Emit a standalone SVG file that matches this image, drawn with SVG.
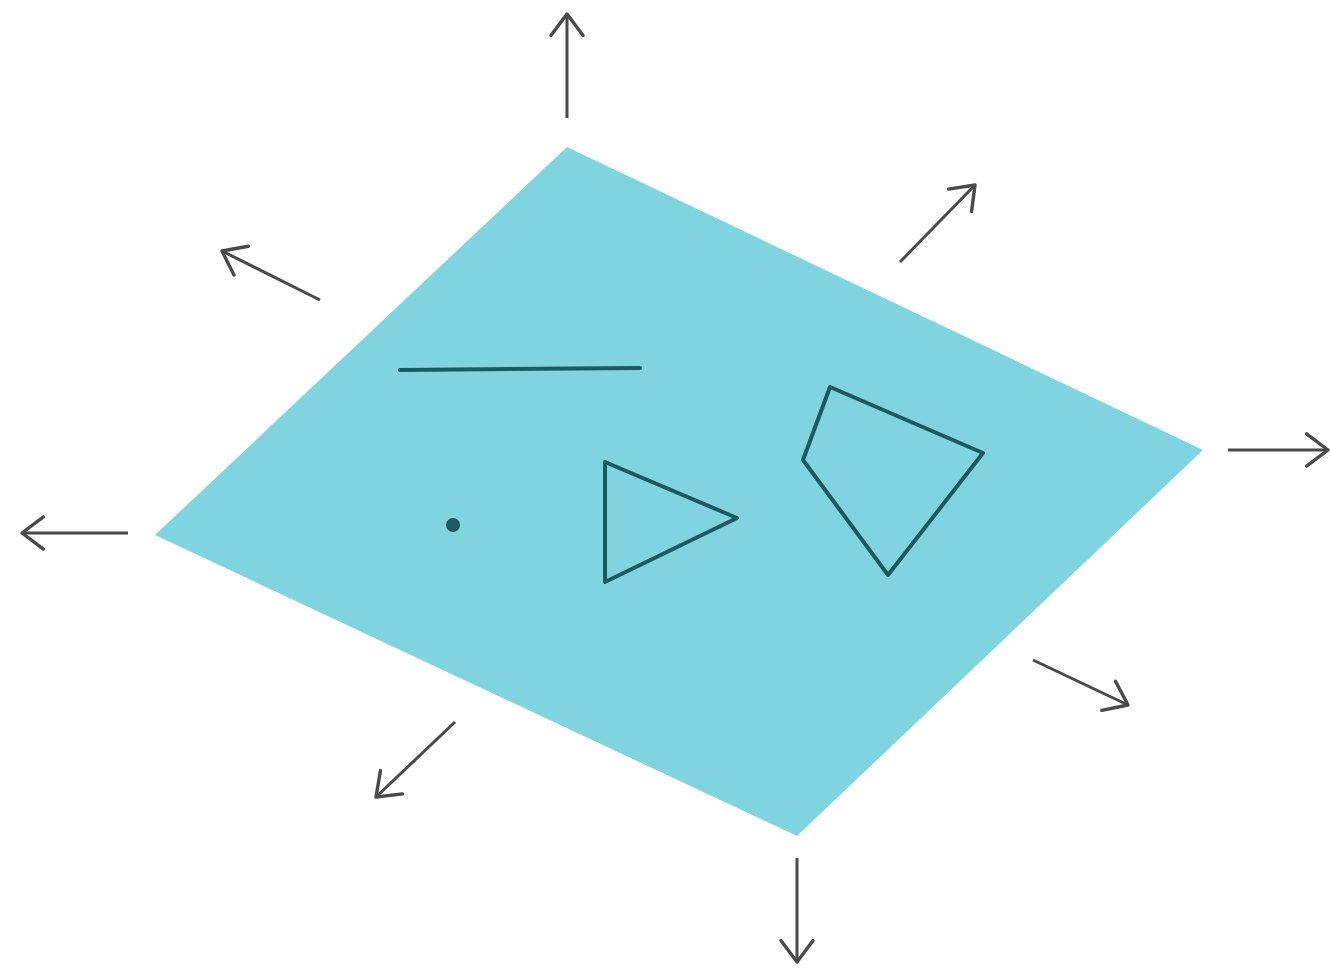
<svg xmlns="http://www.w3.org/2000/svg" width="1331" height="973" viewBox="0 0 1331 973">
<style>
.arr{stroke:#4a4a4a;stroke-width:3;fill:none;marker-end:url(#head)}
.shp{stroke:#1d5960;stroke-width:4;fill:none;stroke-linejoin:round;stroke-linecap:round}
</style>
<defs>
<marker id="head" markerUnits="userSpaceOnUse" markerWidth="30" markerHeight="40" viewBox="-24 -18 28 36" refX="0" refY="0" orient="auto">
<path d="M-20,-15 L0,0 L-20,15" fill="none" stroke="#4a4a4a" stroke-width="3.2" stroke-linecap="round" stroke-linejoin="round"/>
</marker>
</defs>
<rect width="1331" height="973" fill="#ffffff"/>
<g id="plane">
<polygon points="567,147 1203,450 797,836 155,535" fill="#80d4e0"/>
</g>
<g id="shapes">
<line class="shp" x1="400" y1="370" x2="640" y2="368"/>
<circle cx="453" cy="525" r="7" fill="#1d5960"/>
<polygon class="shp" points="605,462 737,518 605,582"/>
<polygon class="shp" points="830,387 983,453 888,575 803,460"/>
</g>
<g id="connectors">
<line class="arr" x1="567" y1="118" x2="567" y2="14"/>
<line class="arr" x1="900" y1="262" x2="975" y2="185"/>
<line class="arr" x1="320" y1="300" x2="222" y2="251"/>
<line class="arr" x1="1228" y1="450" x2="1328" y2="450"/>
<line class="arr" x1="128" y1="533" x2="22" y2="533"/>
<line class="arr" x1="1033" y1="660" x2="1128" y2="705"/>
<line class="arr" x1="455" y1="722" x2="376" y2="797"/>
<line class="arr" x1="797" y1="858" x2="797" y2="962"/>
</g>
</svg>
